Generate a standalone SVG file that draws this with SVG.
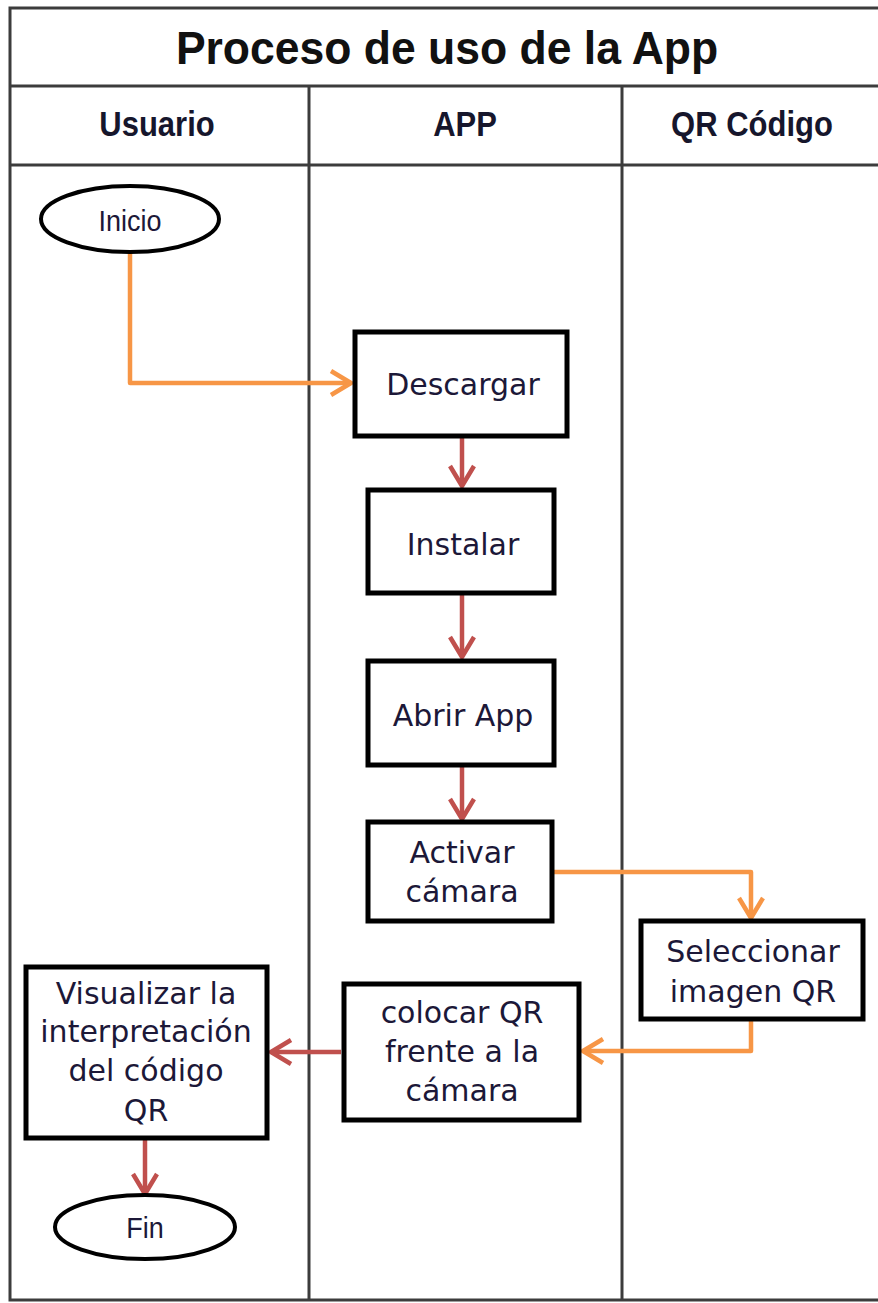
<svg xmlns="http://www.w3.org/2000/svg" width="878" height="1303" viewBox="0 0 878 1303">
  <style>
    .frame { fill: none; stroke: #3c3c3c; stroke-width: 3; }
    .box { fill: #ffffff; stroke: #000000; stroke-width: 5; }
    .term { fill: #ffffff; stroke: #000000; stroke-width: 4; }
    .title { font-family: "Liberation Sans", Arial, sans-serif; font-weight: bold; font-size: 44.5px; fill: #111111; text-anchor: middle; }
    .head { font-family: "Liberation Sans", Arial, sans-serif; font-weight: bold; font-size: 31px; fill: #16162c; text-anchor: middle; }
    .lbl { font-family: "DejaVu Sans", Verdana, sans-serif; font-size: 30px; fill: #1c1838; text-anchor: middle; }
    .tlbl { font-family: "Liberation Sans", Arial, sans-serif; font-size: 27px; fill: #1c1838; text-anchor: middle; }
    .orange { fill: none; stroke: #f79646; stroke-width: 4.5; stroke-linejoin: round; }
    .red { fill: none; stroke: #c0504d; stroke-width: 4.5; }
  </style>
  <defs>
    <marker id="arrowOrange" viewBox="0 0 24 28" refX="22" refY="14" markerWidth="24" markerHeight="28" markerUnits="userSpaceOnUse" orient="auto">
      <path d="M2,2 L22,14 L2,26" fill="none" stroke="#f79646" stroke-width="4.5" stroke-linejoin="round"/>
    </marker>
    <marker id="arrowRed" viewBox="0 0 24 28" refX="22" refY="14" markerWidth="24" markerHeight="28" markerUnits="userSpaceOnUse" orient="auto">
      <path d="M2,2 L22,14 L2,26" fill="none" stroke="#c0504d" stroke-width="4.5" stroke-linejoin="round"/>
    </marker>
  </defs>

  <rect x="0" y="0" width="878" height="1303" fill="#ffffff"/>

  <!-- swimlane frame: title row, lane header row, three lanes -->
  <g id="lanes">
    <path class="frame" d="M880,8 H10 V1300 H880"/>
    <line class="frame" x1="10" y1="86" x2="880" y2="86"/>
    <line class="frame" x1="10" y1="165" x2="880" y2="165"/>
    <line class="frame" x1="309" y1="86" x2="309" y2="1300"/>
    <line class="frame" x1="622" y1="86" x2="622" y2="1300"/>
    <text class="title" transform="translate(447,64) scale(1,1.02)">Proceso de uso de la App</text>
    <text class="head" transform="translate(157,136) scale(1,1.12)">Usuario</text>
    <text class="head" transform="translate(465,136) scale(1,1.12)">APP</text>
    <text class="head" transform="translate(752,136) scale(1,1.12)">QR Código</text>
  </g>

  <!-- connectors -->
  <g id="connectors">
    <polyline class="orange" points="130,252 130,383 351,383" marker-end="url(#arrowOrange)"/>
    <line class="red" x1="462" y1="438" x2="462" y2="486" marker-end="url(#arrowRed)"/>
    <line class="red" x1="462" y1="595" x2="462" y2="657" marker-end="url(#arrowRed)"/>
    <line class="red" x1="462" y1="767" x2="462" y2="819" marker-end="url(#arrowRed)"/>
    <polyline class="orange" points="553,872 751,872 751,918" marker-end="url(#arrowOrange)"/>
    <polyline class="orange" points="751,1021 751,1051 583,1051" marker-end="url(#arrowOrange)"/>
    <line class="red" x1="341" y1="1052" x2="271" y2="1052" marker-end="url(#arrowRed)"/>
    <line class="red" x1="145" y1="1140" x2="145" y2="1194" marker-end="url(#arrowRed)"/>
  </g>

  <g id="inicio">
    <ellipse class="term" cx="130" cy="219" rx="89" ry="33"/>
    <text class="tlbl" transform="translate(130,231) scale(1,1.12)">Inicio</text>
  </g>

  <g id="descargar">
    <rect class="box" x="355" y="332" width="212" height="104"/>
    <text class="lbl" x="463" y="395">Descargar</text>
  </g>

  <g id="instalar">
    <rect class="box" x="368" y="490" width="186" height="103"/>
    <text class="lbl" x="463" y="555">Instalar</text>
  </g>

  <g id="abrir-app">
    <rect class="box" x="368" y="661" width="186" height="104"/>
    <text class="lbl" x="463" y="726">Abrir App</text>
  </g>

  <g id="activar-camara">
    <rect class="box" x="368" y="822" width="184" height="99"/>
    <text class="lbl" x="462" y="863">Activar</text>
    <text class="lbl" x="462" y="902">cámara</text>
  </g>

  <g id="seleccionar-imagen">
    <rect class="box" x="641" y="921" width="222" height="98"/>
    <text class="lbl" x="753" y="962">Seleccionar</text>
    <text class="lbl" x="753" y="1002">imagen QR</text>
  </g>

  <g id="colocar-qr">
    <rect class="box" x="344" y="984" width="235" height="136"/>
    <text class="lbl" x="462" y="1023">colocar QR</text>
    <text class="lbl" x="462" y="1062">frente a la</text>
    <text class="lbl" x="462" y="1101">cámara</text>
  </g>

  <g id="visualizar">
    <rect class="box" x="26" y="967" width="241" height="171"/>
    <text class="lbl" x="146" y="1004">Visualizar la</text>
    <text class="lbl" x="146" y="1042">interpretación</text>
    <text class="lbl" x="146" y="1081">del código</text>
    <text class="lbl" x="146" y="1121">QR</text>
  </g>

  <g id="fin">
    <ellipse class="term" cx="145" cy="1227" rx="90" ry="32"/>
    <text class="tlbl" transform="translate(145,1238) scale(1,1.12)">Fin</text>
  </g>
</svg>
